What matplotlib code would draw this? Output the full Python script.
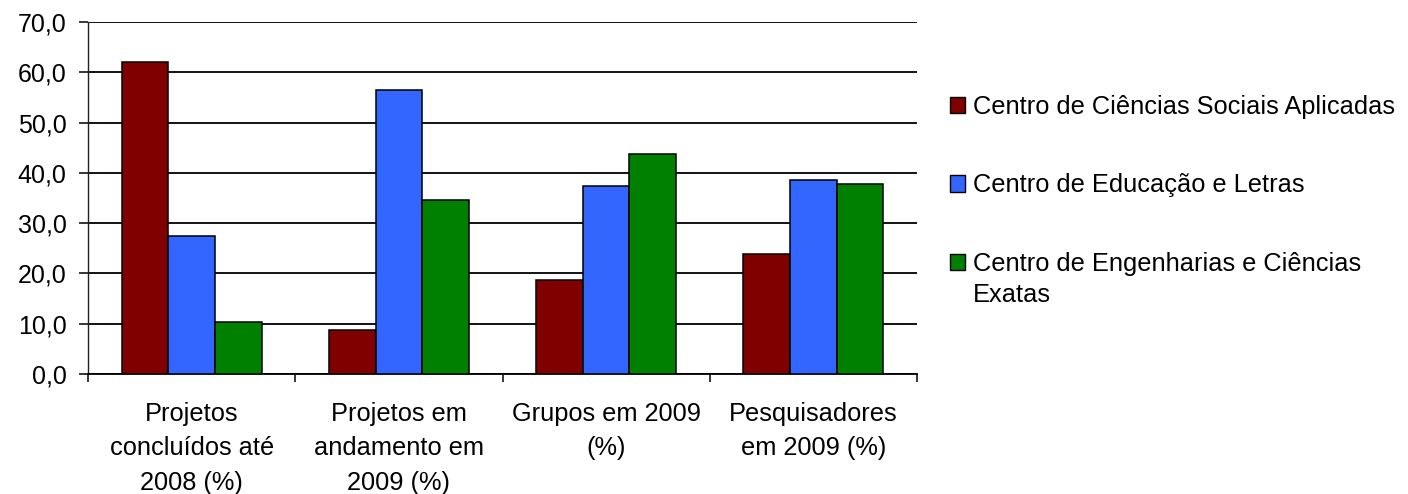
import matplotlib
matplotlib.use("Agg")
import matplotlib.pyplot as plt
from matplotlib.patches import Patch
import numpy as np

categories = ["Projetos\nconcluídos até\n2008 (%)", "Projetos em\nandamento em\n2009 (%)",
              "Grupos em 2009\n(%)", "Pesquisadores\nem 2009 (%)"]
series_names = ["Centro de Ciências Sociais Aplicadas", "Centro de Educação e Letras",
                "Centro de Engenharias e Ciências"]
legend_extra = "Exatas"
sociais = [62.0, 8.7, 18.7, 23.9]
educacao = [27.4, 56.5, 37.4, 38.6]
engenharias = [10.3, 34.6, 43.7, 37.8]
yticks = [0, 10, 20, 30, 40, 50, 60, 70]
ytick_labels = ["0,0", "10,0", "20,0", "30,0", "40,0", "50,0", "60,0", "70,0"]
colors = ["#800000", "#3366FF", "#008000"]

plt.rcParams['font.family'] = ['Liberation Sans', 'DejaVu Sans']

fig = plt.figure(figsize=(14.08, 4.94), dpi=100)
ax = fig.add_axes([88/1408, 120/494, (917-88)/1408, (374-22)/494])

x = np.arange(len(categories))
w = 0.225
for i, (vals, c) in enumerate(zip([sociais, educacao, engenharias], colors)):
    ax.bar(x + (i - 1) * w, vals, width=w, color=c, edgecolor="black", linewidth=1.1,
           zorder=3, label=series_names[i])

ax.set_xlim(-0.5, len(categories) - 0.5)
ax.set_ylim(0, 70)
ax.set_yticks(yticks)
ax.set_yticklabels(ytick_labels, fontsize=18)
ax.yaxis.grid(True, color="black", linewidth=1.3, zorder=0)
ax.set_axisbelow(True)
ax.tick_params(axis="y", direction="out", length=6.5, width=1.1, pad=9)

ax.set_xticks(x)
ax.set_xticklabels(categories, fontsize=18.3, linespacing=1.56)
ax.tick_params(axis="x", which="major", length=0, pad=20)
ax.set_xticks(np.arange(-0.5, len(categories)), minor=True)
ax.tick_params(axis="x", which="minor", direction="out", length=6, width=1.1)

for s in ["top", "right"]:
    ax.spines[s].set_visible(False)
ax.spines["left"].set_linewidth(1.0)
ax.spines["left"].set_color("#222222")
ax.spines["bottom"].set_linewidth(1.3)

handles = [Patch(facecolor=c, edgecolor="black", linewidth=1.0) for c in colors]
leg = fig.legend(handles, series_names, loc="upper left", bbox_to_anchor=(950/1408, 1 - 95/494),
                 frameon=False, fontsize=18.3, handlelength=0.6, handleheight=0.6,
                 handletextpad=0.3, labelspacing=2.14, borderaxespad=0, borderpad=0)
fig.canvas.draw()
t3 = leg.get_texts()[2]
bb = t3.get_window_extent()
fig.text(bb.x0 / 1408, (bb.y0 - 31) / 494, legend_extra, fontsize=18.3, ha="left", va="bottom")

fig.savefig("out.png", dpi=100)
